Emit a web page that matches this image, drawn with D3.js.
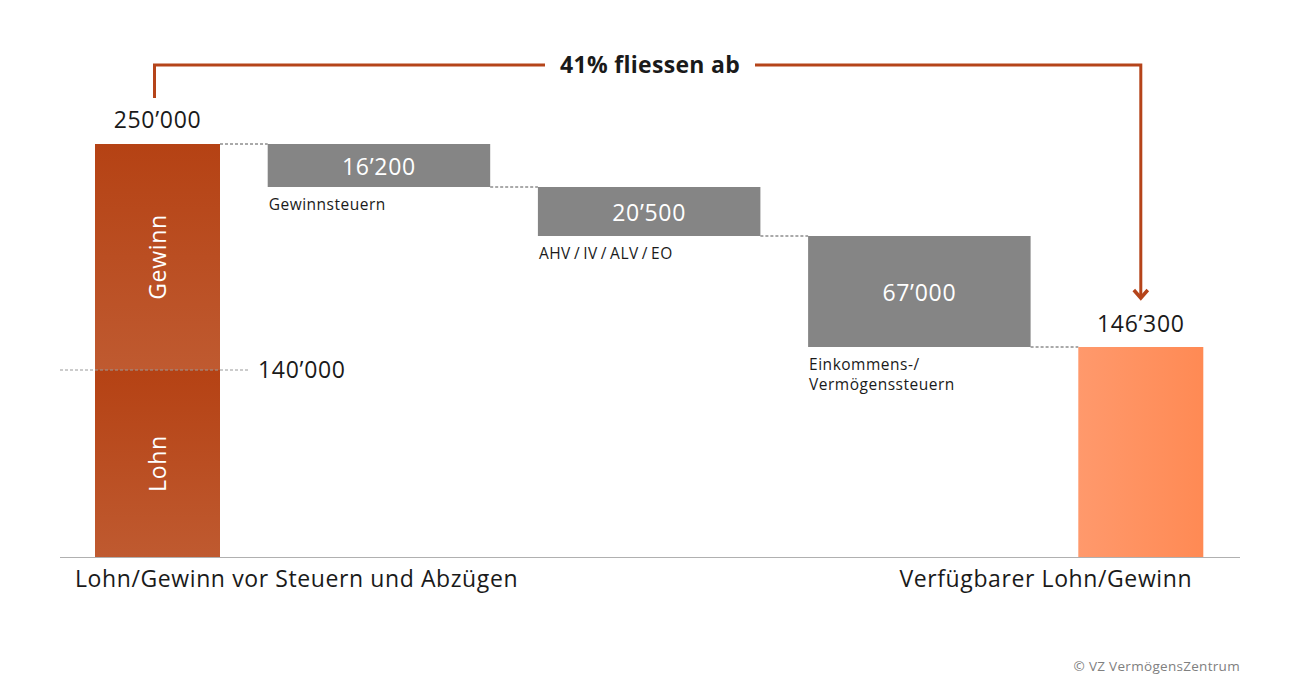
<!DOCTYPE html>
<html><head><meta charset="utf-8">
<script src="https://cdn.jsdelivr.net/npm/d3@7"></script>
<style>body{margin:0;background:#fff}text{font-family:"Open Sans","Noto Sans",sans-serif}</style>
</head><body><svg id="c" width="1300" height="700"></svg>
<script>
// ---- data ----
const startLabel = "Lohn/Gewinn vor Steuern und Abzügen";
const endLabel = "Verfügbarer Lohn/Gewinn";
const startParts = [{name:"Lohn", value:140000},{name:"Gewinn", value:110000}];
const deductionNames = ["Gewinnsteuern","AHV\u2009/\u2009IV\u2009/\u2009ALV\u2009/\u2009EO","Einkommens-/\nVermögenssteuern"];
const deductionValues = [16200, 20500, 67000];
const headline = "41% fliessen ab";
const credit = "© VZ VermögensZentrum";

const fmt = v => d3.format(",")(v).replace(/,/g, "’");
const total = d3.sum(startParts, d => d.value);
const net = total - d3.sum(deductionValues);
const lohn = startParts[0].value;

// cumulative levels
const levels = [total];
deductionValues.forEach(v => levels.push(levels[levels.length-1] - v));

// schematic (not-to-scale) y scale, piecewise linear through the levels
const y = d3.scaleLinear()
  .domain([0, lohn, net, levels[2], levels[1], total])
  .range([557, 370, 347, 236, 187, 144]);

// x layout
const steps = ["start", ...deductionNames, "end"];
const widths = steps.map((s,i) => (i===0 || i===steps.length-1) ? 125 : 222.5);
const gap = 47.7;
const x0 = 95;
const xs = []; let acc = x0;
widths.forEach(w => { xs.push(acc); acc += w + gap; });

const svg = d3.select("#c");
const defs = svg.append("defs");
const g1 = defs.append("linearGradient").attr("id","gStart").attr("x1",0).attr("y1",0).attr("x2",0).attr("y2",1);
g1.append("stop").attr("offset","0%").attr("stop-color","#b54214");
g1.append("stop").attr("offset","100%").attr("stop-color","#bf5a30");
const g2 = defs.append("linearGradient").attr("id","gEnd").attr("x1",0).attr("y1",0).attr("x2",1).attr("y2",0);
g2.append("stop").attr("offset","0%").attr("stop-color","#ff996c");
g2.append("stop").attr("offset","100%").attr("stop-color","#ff8a54");

const orange = "#b5441a";
const big = sel => sel.attr("font-size",23).attr("letter-spacing",0.7);

// start stacked bar
let base = 0;
startParts.forEach(p => {
  const top = base + p.value;
  svg.append("rect").attr("x", xs[0]).attr("width", widths[0])
    .attr("y", y(top)).attr("height", y(base) - y(top)).attr("fill","url(#gStart)");
  const cy = (y(top) + y(base)) / 2;
  svg.append("text").attr("transform",`translate(${xs[0]+widths[0]/2+8},${cy}) rotate(-90)`)
    .attr("text-anchor","middle").attr("fill","#fff").call(big).text(p.name);
  base = top;
});

// dashed line at Lohn level
svg.append("line").attr("x1",60).attr("x2",248).attr("y1",y(lohn)).attr("y2",y(lohn))
  .attr("stroke","#999").attr("stroke-width",1).attr("stroke-dasharray","3,2");
svg.append("text").attr("x",258).attr("y",y(lohn)+8).call(big).attr("fill","#1a1a1a").text(fmt(lohn));

svg.append("text").attr("x",xs[0]+widths[0]/2).attr("y",128).attr("text-anchor","middle")
  .call(big).attr("fill","#1a1a1a").text(fmt(total));

// deduction bars
deductionValues.forEach((v,i) => {
  const xi = xs[i+1], w = widths[i+1];
  const t = levels[i], b = levels[i+1];
  svg.append("rect").attr("x",xi).attr("width",w).attr("y",y(t)).attr("height",y(b)-y(t)).attr("fill","#858585");
  svg.append("text").attr("x",xi+w/2).attr("y",(y(t)+y(b))/2+9).attr("text-anchor","middle")
    .attr("fill","#fff").call(big).text(fmt(v));
  const lines = deductionNames[i].split("\n");
  lines.forEach((ln,k) => {
    svg.append("text").attr("x",xi+1).attr("y",y(b)+23+k*20).attr("font-size",15.5).attr("letter-spacing",0.5)
      .attr("fill","#1a1a1a").text(ln);
  });
});

// connectors
for (let i=0;i<steps.length-1;i++){
  const lvl = i===0 ? total : levels[i];
  svg.append("line").attr("x1",xs[i]+widths[i]).attr("x2",xs[i+1]).attr("y1",y(lvl)).attr("y2",y(lvl))
    .attr("stroke","#555").attr("stroke-width",1).attr("stroke-dasharray","3,2");
}

// end bar
const ei = steps.length-1;
svg.append("rect").attr("x",xs[ei]).attr("width",widths[ei]).attr("y",y(net)).attr("height",y(0)-y(net)).attr("fill","url(#gEnd)");
svg.append("text").attr("x",xs[ei]+widths[ei]/2).attr("y",y(net)-15).attr("text-anchor","middle")
  .call(big).attr("fill","#1a1a1a").text(fmt(net));

// baseline
svg.append("line").attr("x1",60).attr("x2",1240).attr("y1",y(0)+0.5).attr("y2",y(0)+0.5).attr("stroke","#b0b0b0").attr("stroke-width",1);

// bottom labels
svg.append("text").attr("x",75).attr("y",587).attr("font-size",23).attr("letter-spacing",0.6).attr("fill","#1a1a1a").text(startLabel);
svg.append("text").attr("x",xs[ei]+widths[ei]/2-95).attr("y",587).attr("text-anchor","middle").attr("font-size",23).attr("letter-spacing",0.6).attr("fill","#1a1a1a").text(endLabel);

// headline bracket
const lx = xs[0]+widths[0]/2 - 3, rx = xs[ei]+widths[ei]/2 - 0;
const hy = 65;
svg.append("path").attr("d",`M${lx},98 V${hy} H545`).attr("fill","none").attr("stroke",orange).attr("stroke-width",3);
svg.append("path").attr("d",`M755,${hy} H${rx} V297`).attr("fill","none").attr("stroke",orange).attr("stroke-width",3);
svg.append("path").attr("d",`M${rx-7},290 L${rx},298 L${rx+7},290`).attr("fill","none").attr("stroke",orange).attr("stroke-width",3.5);
svg.append("text").attr("x",650).attr("y",hy+8).attr("text-anchor","middle").attr("font-size",23).attr("letter-spacing",0.3)
  .attr("font-weight","bold").attr("fill","#1a1a1a").text(headline);

svg.append("text").attr("x",1240).attr("y",671).attr("text-anchor","end").attr("font-size",13.5).attr("letter-spacing",0.3).attr("fill","#808080").text(credit);
</script></body></html>
